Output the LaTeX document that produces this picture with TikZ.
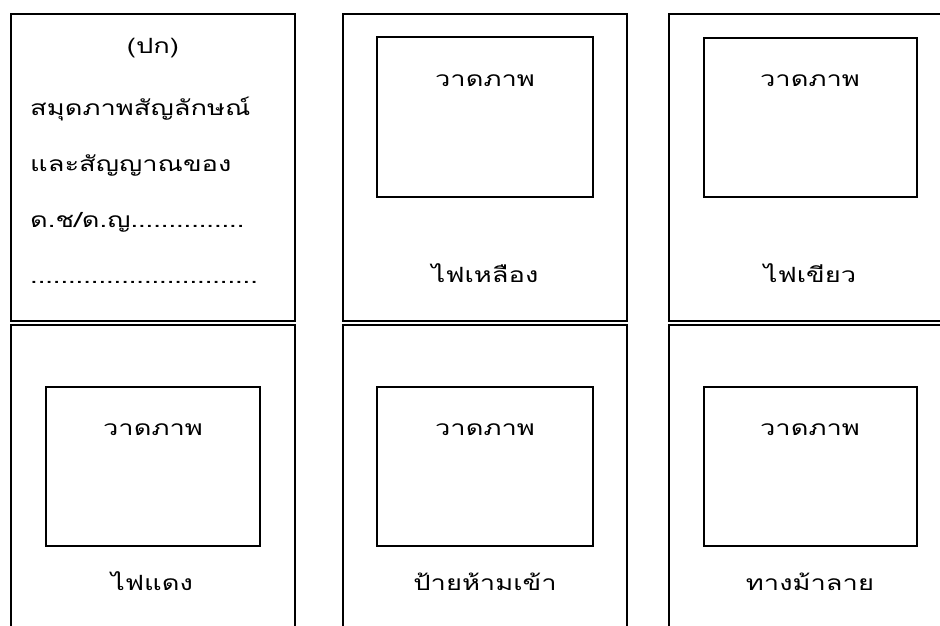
\documentclass[tikz,border=0pt]{standalone}
\usepackage{fontspec}
\newfontfamily\thaifont[Script=Thai,FakeStretch=1.3]{Loma}
\begin{document}
\begin{tikzpicture}[x=1pt,y=-1pt,
  cellline/.style={line width=1.4pt, black},
  drawbox/.style={line width=1.1pt, black},
  lbl/.style={font=\thaifont\fontsize{21}{25}\selectfont, inner sep=0pt, anchor=base}]
\useasboundingbox (0,0) rectangle (940,626);
\clip (0,0) rectangle (940,626);
% outer cells, top row
\draw[cellline] (11,14) rectangle (295,321);
\draw[cellline] (343,14) rectangle (627,321);
\draw[cellline] (669,14) rectangle (960,321);
% outer cells, bottom row
\draw[cellline] (11,325) rectangle (295,660);
\draw[cellline] (343,325) rectangle (627,660);
\draw[cellline] (669,325) rectangle (960,660);
% inner drawing boxes
\draw[drawbox] (377,37) rectangle (593,197);
\draw[drawbox] (704,38) rectangle (917,197);
\draw[drawbox] (46,387) rectangle (260,546);
\draw[drawbox] (377,387) rectangle (593,546);
\draw[drawbox] (704,387) rectangle (917,546);
% cover text
\node[lbl] (cover) at (153,54) {(ปก)};
\node[lbl, anchor=base west] (l1) at (30,115) {สมุดภาพสัญลักษณ์};
\node[lbl, anchor=base west] (l2) at (30,171) {และสัญญาณของ};
\node[lbl, anchor=base west] (l3) at (30,227) {ด.ช/ด.ญ...............};
\node[lbl, anchor=base west] (l4) at (30,283) {..............................};
% box captions
\node[lbl] (d2) at (485,86) {วาดภาพ};
\node[lbl] (d3) at (810,86) {วาดภาพ};
\node[lbl] (d4) at (153,435) {วาดภาพ};
\node[lbl] (d5) at (485,435) {วาดภาพ};
\node[lbl] (d6) at (810,435) {วาดภาพ};
% names
\node[lbl] (n2) at (485,282) {ไฟเหลือง};
\node[lbl] (n3) at (810,282) {ไฟเขียว};
\node[lbl] (n4) at (152,590) {ไฟแดง};
\node[lbl] (n5) at (485,590) {ป้ายห้ามเข้า};
\node[lbl] (n6) at (810,590) {ทางม้าลาย};
\end{tikzpicture}
\end{document}
